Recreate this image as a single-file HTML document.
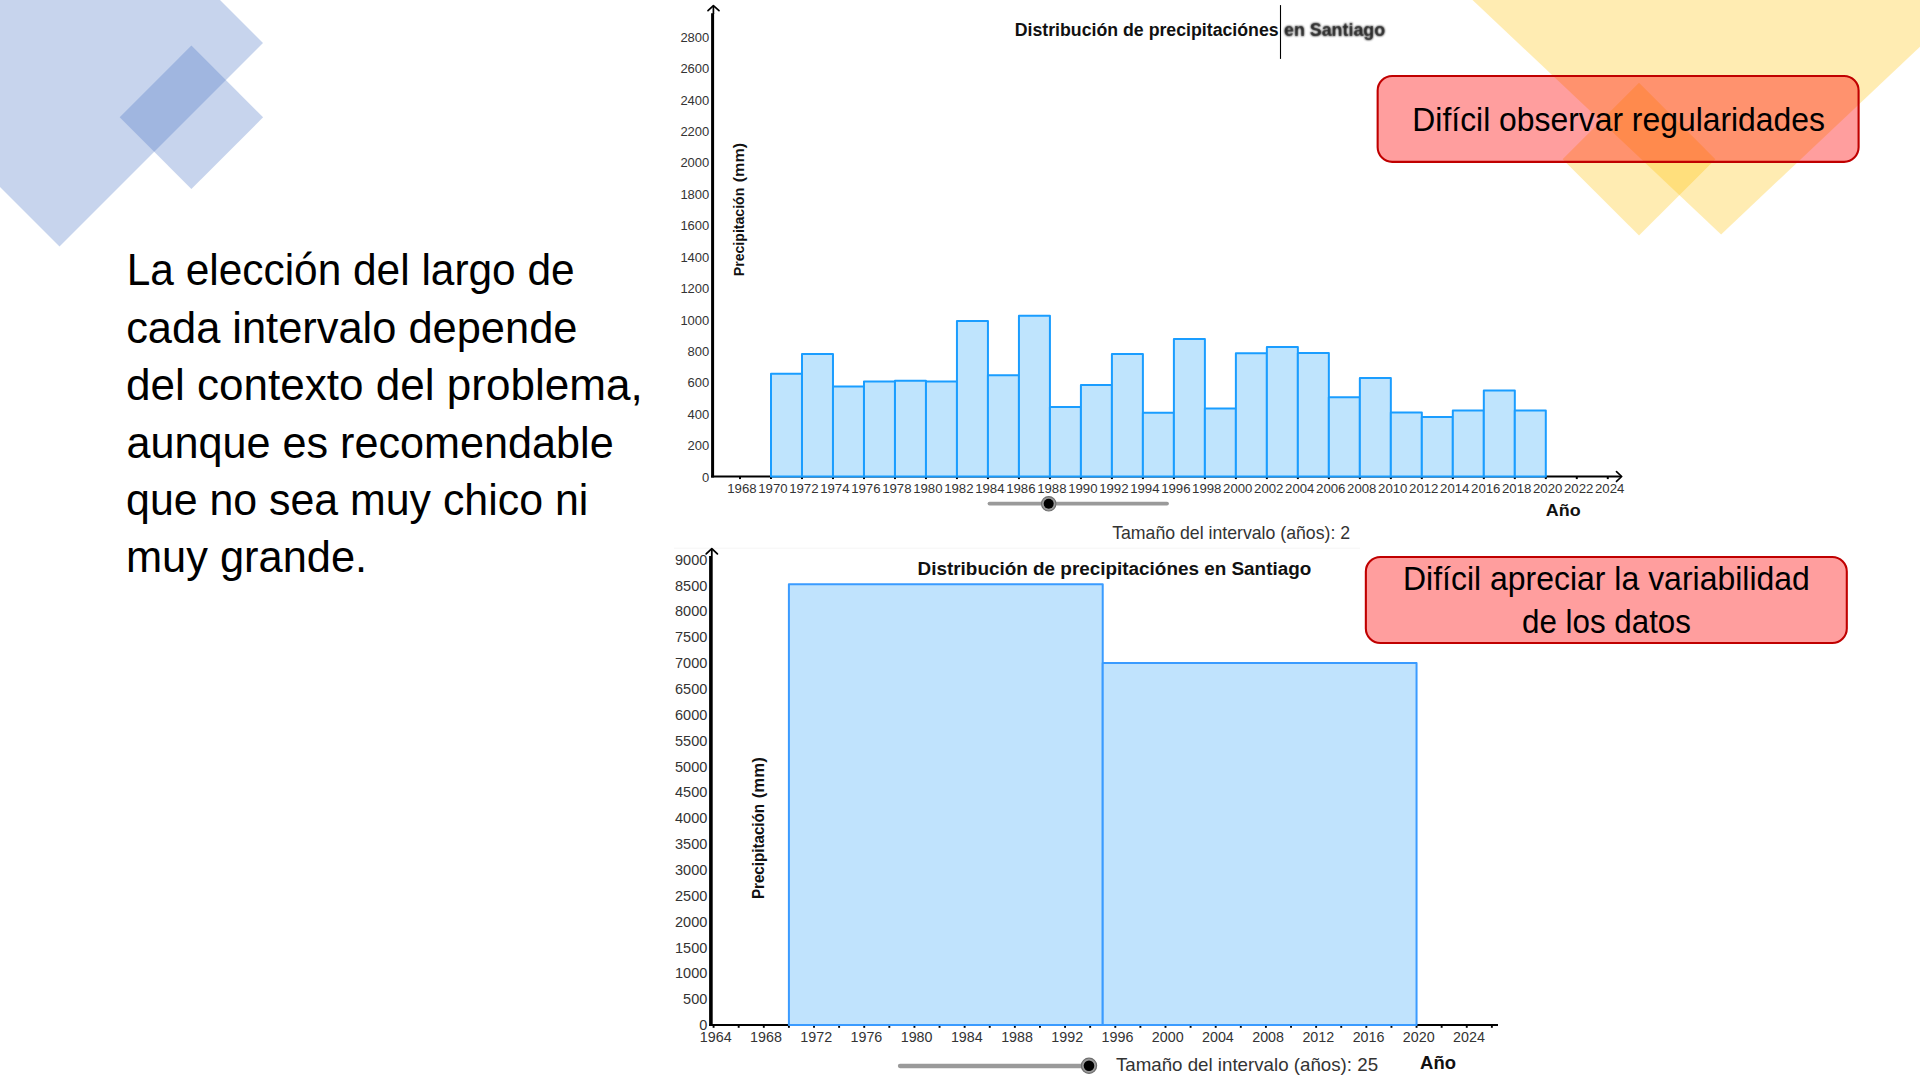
<!DOCTYPE html>
<html><head><meta charset="utf-8"><style>
html,body{margin:0;padding:0;background:#fff;}
body{width:1920px;height:1080px;position:relative;overflow:hidden;}
svg{position:absolute;left:0;top:0;}
svg text{font-family:"Liberation Sans",sans-serif;}
</style></head><body>
<svg width="1920" height="1080" viewBox="0 0 1920 1080">
<defs><filter id="bl" x="-5%" y="-30%" width="110%" height="160%"><feGaussianBlur stdDeviation="0.8"/></filter></defs>
<g fill="#4472C4" fill-opacity="0.3">
<polygon points="59.5,-160.5 263,43 59.5,246.5 -144,43"/>
<polygon points="191.4,45.6 263.1,117.3 191.4,189 119.7,117.3"/>
</g>
<g fill="#FFC000" fill-opacity="0.3">
<polygon points="1721.1,234.4 1451.32,-20 1990.88,-20"/>
<polygon points="1639,82.7 1715.4,159.15 1639,235.6 1562.6,159.15"/>
</g>
<line x1="712.6" y1="477.5" x2="712.6" y2="13.2" stroke="#000" stroke-width="3"/>
<line x1="713.4" y1="14" x2="713.4" y2="6.5" stroke="#000" stroke-width="1.7"/>
<polyline points="708,10.6 713.4,5.6 719,10.6" fill="none" stroke="#000" stroke-width="1.7" stroke-linecap="round" stroke-linejoin="round"/>
<line x1="711.1" y1="476.5" x2="1621" y2="476.5" stroke="#000" stroke-width="2"/>
<polyline points="1616.5,471.7 1621.7,476.5 1616.5,481.3" fill="none" stroke="#000" stroke-width="1.7" stroke-linecap="round" stroke-linejoin="round"/>
<g stroke="#000" stroke-width="2"><line x1="740.01" y1="476.5" x2="740.01" y2="479.1"/><line x1="771" y1="476.5" x2="771" y2="479.1"/><line x1="801.99" y1="476.5" x2="801.99" y2="479.1"/><line x1="832.98" y1="476.5" x2="832.98" y2="479.1"/><line x1="863.98" y1="476.5" x2="863.98" y2="479.1"/><line x1="894.97" y1="476.5" x2="894.97" y2="479.1"/><line x1="925.96" y1="476.5" x2="925.96" y2="479.1"/><line x1="956.95" y1="476.5" x2="956.95" y2="479.1"/><line x1="987.94" y1="476.5" x2="987.94" y2="479.1"/><line x1="1018.94" y1="476.5" x2="1018.94" y2="479.1"/><line x1="1049.93" y1="476.5" x2="1049.93" y2="479.1"/><line x1="1080.92" y1="476.5" x2="1080.92" y2="479.1"/><line x1="1111.91" y1="476.5" x2="1111.91" y2="479.1"/><line x1="1142.9" y1="476.5" x2="1142.9" y2="479.1"/><line x1="1173.9" y1="476.5" x2="1173.9" y2="479.1"/><line x1="1204.89" y1="476.5" x2="1204.89" y2="479.1"/><line x1="1235.88" y1="476.5" x2="1235.88" y2="479.1"/><line x1="1266.87" y1="476.5" x2="1266.87" y2="479.1"/><line x1="1297.86" y1="476.5" x2="1297.86" y2="479.1"/><line x1="1328.86" y1="476.5" x2="1328.86" y2="479.1"/><line x1="1359.85" y1="476.5" x2="1359.85" y2="479.1"/><line x1="1390.84" y1="476.5" x2="1390.84" y2="479.1"/><line x1="1421.83" y1="476.5" x2="1421.83" y2="479.1"/><line x1="1452.82" y1="476.5" x2="1452.82" y2="479.1"/><line x1="1483.82" y1="476.5" x2="1483.82" y2="479.1"/><line x1="1514.81" y1="476.5" x2="1514.81" y2="479.1"/><line x1="1545.8" y1="476.5" x2="1545.8" y2="479.1"/><line x1="1576.79" y1="476.5" x2="1576.79" y2="479.1"/><line x1="1607.78" y1="476.5" x2="1607.78" y2="479.1"/></g>
<g font-size="13.2" fill="#333" text-anchor="middle"><text x="741.91" y="493.4">1968</text><text x="772.9" y="493.4">1970</text><text x="803.89" y="493.4">1972</text><text x="834.88" y="493.4">1974</text><text x="865.88" y="493.4">1976</text><text x="896.87" y="493.4">1978</text><text x="927.86" y="493.4">1980</text><text x="958.85" y="493.4">1982</text><text x="989.84" y="493.4">1984</text><text x="1020.84" y="493.4">1986</text><text x="1051.83" y="493.4">1988</text><text x="1082.82" y="493.4">1990</text><text x="1113.81" y="493.4">1992</text><text x="1144.8" y="493.4">1994</text><text x="1175.8" y="493.4">1996</text><text x="1206.79" y="493.4">1998</text><text x="1237.78" y="493.4">2000</text><text x="1268.77" y="493.4">2002</text><text x="1299.76" y="493.4">2004</text><text x="1330.76" y="493.4">2006</text><text x="1361.75" y="493.4">2008</text><text x="1392.74" y="493.4">2010</text><text x="1423.73" y="493.4">2012</text><text x="1454.72" y="493.4">2014</text><text x="1485.72" y="493.4">2016</text><text x="1516.71" y="493.4">2018</text><text x="1547.7" y="493.4">2020</text><text x="1578.69" y="493.4">2022</text><text x="1609.68" y="493.4">2024</text></g>
<g font-size="13" fill="#333" text-anchor="end"><text x="709.3" y="481.7">0</text><text x="709.3" y="450.27">200</text><text x="709.3" y="418.84">400</text><text x="709.3" y="387.4">600</text><text x="709.3" y="355.97">800</text><text x="709.3" y="324.54">1000</text><text x="709.3" y="293.11">1200</text><text x="709.3" y="261.68">1400</text><text x="709.3" y="230.24">1600</text><text x="709.3" y="198.81">1800</text><text x="709.3" y="167.38">2000</text><text x="709.3" y="135.95">2200</text><text x="709.3" y="104.51">2400</text><text x="709.3" y="73.08">2600</text><text x="709.3" y="41.65">2800</text></g>
<g fill="#BFE4FD" stroke="#1A9DFF" stroke-width="2" stroke-linejoin="round"><rect x="771" y="373.72" width="30.99" height="102.78"/><rect x="801.99" y="354.07" width="30.99" height="122.43"/><rect x="832.98" y="386.45" width="30.99" height="90.05"/><rect x="863.98" y="381.57" width="30.99" height="94.93"/><rect x="894.97" y="380.63" width="30.99" height="95.87"/><rect x="925.96" y="381.57" width="30.99" height="94.93"/><rect x="956.95" y="320.91" width="30.99" height="155.59"/><rect x="987.94" y="375.29" width="30.99" height="101.21"/><rect x="1018.94" y="315.72" width="30.99" height="160.78"/><rect x="1049.93" y="407.03" width="30.99" height="69.47"/><rect x="1080.92" y="384.88" width="30.99" height="91.62"/><rect x="1111.91" y="353.91" width="30.99" height="122.59"/><rect x="1142.9" y="412.85" width="30.99" height="63.65"/><rect x="1173.9" y="338.98" width="30.99" height="137.52"/><rect x="1204.89" y="408.45" width="30.99" height="68.05"/><rect x="1235.88" y="353.29" width="30.99" height="123.21"/><rect x="1266.87" y="347" width="30.99" height="129.5"/><rect x="1297.86" y="352.97" width="30.99" height="123.53"/><rect x="1328.86" y="397.29" width="30.99" height="79.21"/><rect x="1359.85" y="378.12" width="30.99" height="98.38"/><rect x="1390.84" y="412.38" width="30.99" height="64.12"/><rect x="1421.83" y="417.09" width="30.99" height="59.41"/><rect x="1452.82" y="410.49" width="30.99" height="66.01"/><rect x="1483.82" y="390.38" width="30.99" height="86.12"/><rect x="1514.81" y="410.49" width="30.99" height="66.01"/></g>
<text x="1014.75" y="35.8" font-size="17.6" font-weight="bold" fill="#111" textLength="263.9" lengthAdjust="spacingAndGlyphs">Distribución de precipitaciónes</text>
<g filter="url(#bl)"><text x="1283.99" y="35.8" font-size="17.6" font-weight="bold" fill="#000" textLength="101.18" lengthAdjust="spacingAndGlyphs">en Santiago</text></g>
<g opacity="0.55"><text x="1283.99" y="35.8" font-size="17.6" font-weight="bold" fill="#222" textLength="101.18" lengthAdjust="spacingAndGlyphs">en Santiago</text></g>
<line x1="1280.5" y1="5.1" x2="1280.5" y2="58.9" stroke="#000" stroke-width="1.1"/>
<text transform="translate(743.6,276.22) rotate(-90)" x="0" y="0" font-size="15" font-weight="bold" fill="#111" textLength="88.56" lengthAdjust="spacingAndGlyphs">Precipitación</text>
<text transform="translate(743.6,182.31) rotate(-90)" x="0" y="0" font-size="15" font-weight="bold" fill="#111" textLength="39.51" lengthAdjust="spacingAndGlyphs">(mm)</text>
<text x="1545.75" y="516" font-size="17.3" font-weight="bold" fill="#111" textLength="34.85" lengthAdjust="spacingAndGlyphs">Año</text>
<line x1="989.5" y1="503.6" x2="1167" y2="503.6" stroke="#9a9a9a" stroke-width="3.8" stroke-linecap="round"/>
<circle cx="1048.7" cy="503.8" r="7.2" fill="#9a9a9a" stroke="#6e6e6e" stroke-width="1.1"/><circle cx="1048.7" cy="503.8" r="5" fill="#000"/>
<text x="1112.15" y="539" font-size="17.8" fill="#333" textLength="237.97" lengthAdjust="spacingAndGlyphs">Tamaño del intervalo (años): 2</text>
<line x1="674" y1="548.2" x2="1360" y2="548.2" stroke="#f5f5f5" stroke-width="1"/>
<line x1="710.9" y1="1026" x2="710.9" y2="556" stroke="#000" stroke-width="3.6"/>
<line x1="711.8" y1="556" x2="711.8" y2="550" stroke="#000" stroke-width="1.8"/>
<polyline points="706.2,553.9 711.8,548.6 717.4,553.9" fill="none" stroke="#000" stroke-width="1.8" stroke-linecap="round" stroke-linejoin="round"/>
<line x1="709.2" y1="1025" x2="1498" y2="1025" stroke="#000" stroke-width="2.2"/>
<g stroke="#000" stroke-width="1.9"><line x1="713.58" y1="1025" x2="713.58" y2="1027.8"/><line x1="738.69" y1="1025" x2="738.69" y2="1027.8"/><line x1="763.79" y1="1025" x2="763.79" y2="1027.8"/><line x1="788.9" y1="1025" x2="788.9" y2="1027.8"/><line x1="814.01" y1="1025" x2="814.01" y2="1027.8"/><line x1="839.11" y1="1025" x2="839.11" y2="1027.8"/><line x1="864.22" y1="1025" x2="864.22" y2="1027.8"/><line x1="889.32" y1="1025" x2="889.32" y2="1027.8"/><line x1="914.43" y1="1025" x2="914.43" y2="1027.8"/><line x1="939.54" y1="1025" x2="939.54" y2="1027.8"/><line x1="964.64" y1="1025" x2="964.64" y2="1027.8"/><line x1="989.75" y1="1025" x2="989.75" y2="1027.8"/><line x1="1014.85" y1="1025" x2="1014.85" y2="1027.8"/><line x1="1039.96" y1="1025" x2="1039.96" y2="1027.8"/><line x1="1065.07" y1="1025" x2="1065.07" y2="1027.8"/><line x1="1090.17" y1="1025" x2="1090.17" y2="1027.8"/><line x1="1115.28" y1="1025" x2="1115.28" y2="1027.8"/><line x1="1140.38" y1="1025" x2="1140.38" y2="1027.8"/><line x1="1165.49" y1="1025" x2="1165.49" y2="1027.8"/><line x1="1190.6" y1="1025" x2="1190.6" y2="1027.8"/><line x1="1215.7" y1="1025" x2="1215.7" y2="1027.8"/><line x1="1240.81" y1="1025" x2="1240.81" y2="1027.8"/><line x1="1265.91" y1="1025" x2="1265.91" y2="1027.8"/><line x1="1291.02" y1="1025" x2="1291.02" y2="1027.8"/><line x1="1316.13" y1="1025" x2="1316.13" y2="1027.8"/><line x1="1341.23" y1="1025" x2="1341.23" y2="1027.8"/><line x1="1366.34" y1="1025" x2="1366.34" y2="1027.8"/><line x1="1391.44" y1="1025" x2="1391.44" y2="1027.8"/><line x1="1416.55" y1="1025" x2="1416.55" y2="1027.8"/><line x1="1441.66" y1="1025" x2="1441.66" y2="1027.8"/><line x1="1466.76" y1="1025" x2="1466.76" y2="1027.8"/><line x1="1491.87" y1="1025" x2="1491.87" y2="1027.8"/></g>
<g font-size="14.3" fill="#333" text-anchor="middle"><text x="715.78" y="1042.2">1964</text><text x="765.99" y="1042.2">1968</text><text x="816.21" y="1042.2">1972</text><text x="866.42" y="1042.2">1976</text><text x="916.63" y="1042.2">1980</text><text x="966.84" y="1042.2">1984</text><text x="1017.05" y="1042.2">1988</text><text x="1067.27" y="1042.2">1992</text><text x="1117.48" y="1042.2">1996</text><text x="1167.69" y="1042.2">2000</text><text x="1217.9" y="1042.2">2004</text><text x="1268.11" y="1042.2">2008</text><text x="1318.33" y="1042.2">2012</text><text x="1368.54" y="1042.2">2016</text><text x="1418.75" y="1042.2">2020</text><text x="1468.96" y="1042.2">2024</text></g>
<g font-size="14.5" fill="#333" text-anchor="end"><text x="707.3" y="1030.2">0</text><text x="707.3" y="1004.34">500</text><text x="707.3" y="978.48">1000</text><text x="707.3" y="952.62">1500</text><text x="707.3" y="926.76">2000</text><text x="707.3" y="900.89">2500</text><text x="707.3" y="875.03">3000</text><text x="707.3" y="849.17">3500</text><text x="707.3" y="823.31">4000</text><text x="707.3" y="797.45">4500</text><text x="707.3" y="771.59">5000</text><text x="707.3" y="745.73">5500</text><text x="707.3" y="719.87">6000</text><text x="707.3" y="694.01">6500</text><text x="707.3" y="668.14">7000</text><text x="707.3" y="642.28">7500</text><text x="707.3" y="616.42">8000</text><text x="707.3" y="590.56">8500</text><text x="707.3" y="564.7">9000</text></g>
<g fill="#C0E3FD" stroke="#3A9BFF" stroke-width="2" stroke-linejoin="round"><rect x="788.9" y="584.27" width="313.82" height="440.73"/><rect x="1102.72" y="662.94" width="313.83" height="362.06"/></g>
<text x="917.57" y="574.7" font-size="18.9" font-weight="bold" fill="#111" textLength="393.74" lengthAdjust="spacingAndGlyphs">Distribución de precipitaciónes en Santiago</text>
<text transform="translate(764.4,899.09) rotate(-90)" x="0" y="0" font-size="16" font-weight="bold" fill="#111" textLength="95.19" lengthAdjust="spacingAndGlyphs">Precipitación</text>
<text transform="translate(764.4,798.24) rotate(-90)" x="0" y="0" font-size="16" font-weight="bold" fill="#111" textLength="40.97" lengthAdjust="spacingAndGlyphs">(mm)</text>
<text x="1420.14" y="1069" font-size="18" font-weight="bold" fill="#111" textLength="35.83" lengthAdjust="spacingAndGlyphs">Año</text>
<line x1="900" y1="1066" x2="1088" y2="1066" stroke="#9a9a9a" stroke-width="4.3" stroke-linecap="round"/>
<circle cx="1089" cy="1065.8" r="7.6" fill="#9a9a9a" stroke="#6e6e6e" stroke-width="1.2"/><circle cx="1089" cy="1065.8" r="5.3" fill="#000"/>
<text x="1115.88" y="1071.4" font-size="19" fill="#333" textLength="262.18" lengthAdjust="spacingAndGlyphs">Tamaño del intervalo (años): 25</text>
<rect x="1377.65" y="75.95" width="480.95" height="85.9" rx="14.5" fill="#FF0000" fill-opacity="0.38" stroke="#C00000" stroke-width="2.1"/>
<text x="1412.35" y="130.5" font-size="33" fill="#000" textLength="412.58" lengthAdjust="spacingAndGlyphs">Difícil observar regularidades</text>
<rect x="1365.85" y="557" width="480.95" height="86" rx="14.5" fill="#FF0000" fill-opacity="0.38" stroke="#C00000" stroke-width="2.1"/>
<text x="1402.94" y="590.1" font-size="33" fill="#000" textLength="406.93" lengthAdjust="spacingAndGlyphs">Difícil apreciar la variabilidad</text>
<text x="1522.05" y="632.9" font-size="33" fill="#000" textLength="168.88" lengthAdjust="spacingAndGlyphs">de los datos</text>
<text x="126.71" y="285" font-size="43.5" fill="#000" textLength="447.94" lengthAdjust="spacingAndGlyphs">La elección del largo de</text>
<text x="126.16" y="342.8" font-size="43.5" fill="#000" textLength="451.29" lengthAdjust="spacingAndGlyphs">cada intervalo depende</text>
<text x="126.04" y="399.5" font-size="43.5" fill="#000" textLength="516.72" lengthAdjust="spacingAndGlyphs">del contexto del problema,</text>
<text x="126.47" y="457.8" font-size="43.5" fill="#000" textLength="487.23" lengthAdjust="spacingAndGlyphs">aunque es recomendable</text>
<text x="126.09" y="514.9" font-size="43.5" fill="#000" textLength="462.19" lengthAdjust="spacingAndGlyphs">que no sea muy chico ni</text>
<text x="125.98" y="572.4" font-size="43.5" fill="#000" textLength="241.09" lengthAdjust="spacingAndGlyphs">muy grande.</text>
</svg>
</body></html>
